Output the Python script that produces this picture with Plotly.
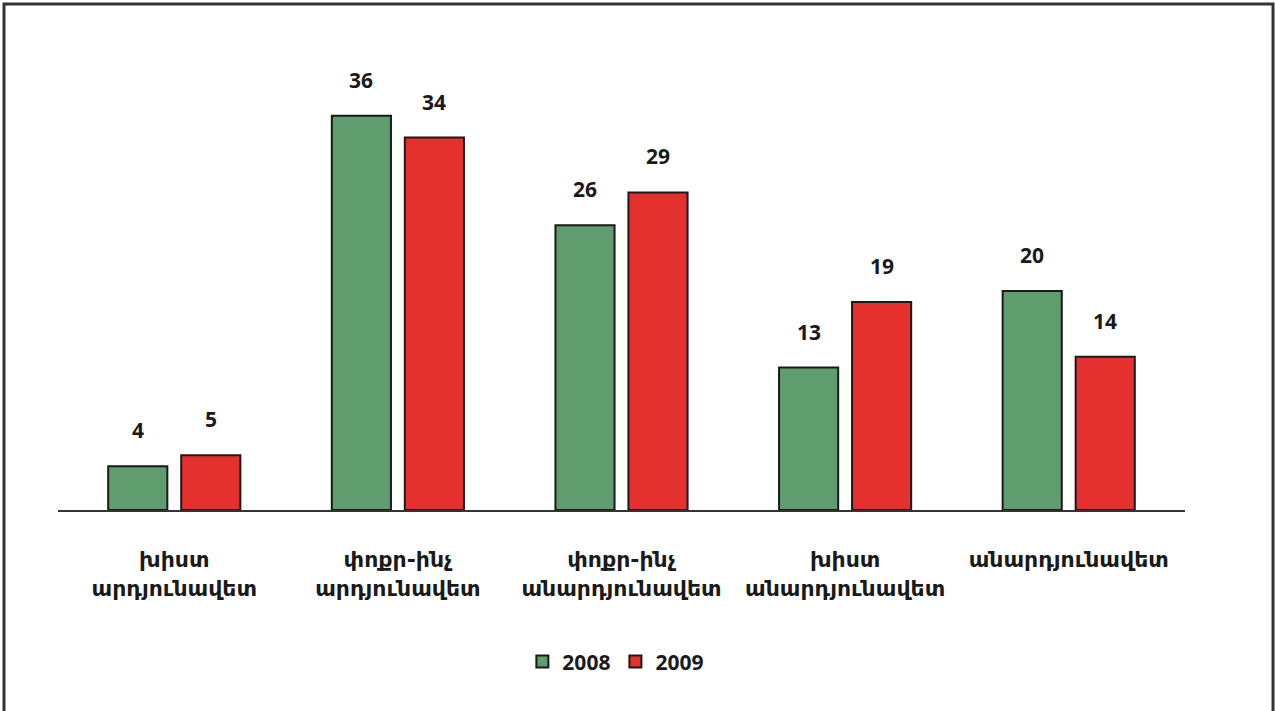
import plotly.graph_objects as go

categories = ["խիստ<br>արդյունավետ", "փոքր-ինչ<br>արդյունավետ", "փոքր-ինչ<br>անարդյունավետ",
              "խիստ<br>անարդյունավետ", "անարդյունավետ<br> "]
values_2008 = [4, 36, 26, 13, 20]
values_2009 = [5, 34, 29, 19, 14]
series_names = ["2008", "2009"]
colors = ["#5F9C6E", "#E4312D"]

FONT = "Open Sans, DejaVu Sans, sans-serif"
ARM_FONT = "DejaVu Sans, sans-serif"

fig = go.Figure()
for name, vals, col in zip(series_names, [values_2008, values_2009], colors):
    fig.add_trace(go.Bar(
        x=list(range(len(categories))), y=vals, name=f"<b>{name}</b>",
        marker=dict(color=col, line=dict(color="#1a1a1a", width=2)),
        hoverinfo="skip",
    ))

# value labels above bars
slot_px = 73
for i, (name, vals) in enumerate(zip(series_names, [values_2008, values_2009])):
    shift = -slot_px / 2 if i == 0 else slot_px / 2
    for j, v in enumerate(vals):
        fig.add_annotation(x=j, y=v, text=f"<b>{v}</b>", showarrow=False,
                           xshift=shift, yshift=20, yanchor="bottom",
                           font=dict(family=FONT, size=21, color="#1a1a1a"))

# outer frame
fig.add_shape(type="rect", xref="paper", yref="paper",
              x0=-0.0479, x1=1.0781, y0=-0.46, y1=1.1,
              line=dict(color="#333333", width=3), fillcolor="rgba(0,0,0,0)")

fig.update_layout(
    width=1275, height=711,
    margin=dict(l=58, r=90, t=50, b=201),
    paper_bgcolor="white", plot_bgcolor="white",
    barmode="group", bargap=0.347, bargroupgap=0.19,
    showlegend=True,
    legend=dict(orientation="h", x=0.495, xanchor="center", y=-0.33, yanchor="middle",
                font=dict(family=FONT, size=21, color="#1a1a1a"), traceorder="normal",
                itemwidth=30),
    xaxis=dict(range=[-0.52, 4.52], tickmode="array", tickvals=list(range(len(categories))),
               ticktext=[f"<b>{c}</b>" for c in categories],
               showline=True, linecolor="#333333", linewidth=1.5, ticks="",
               showgrid=False, zeroline=False, ticklabelstandoff=29,
               tickfont=dict(family=ARM_FONT, size=22, color="#1a1a1a")),
    yaxis=dict(range=[0, 42], visible=False, showgrid=False, zeroline=False),
    font=dict(family=FONT),
)

fig.write_html("out.html")
